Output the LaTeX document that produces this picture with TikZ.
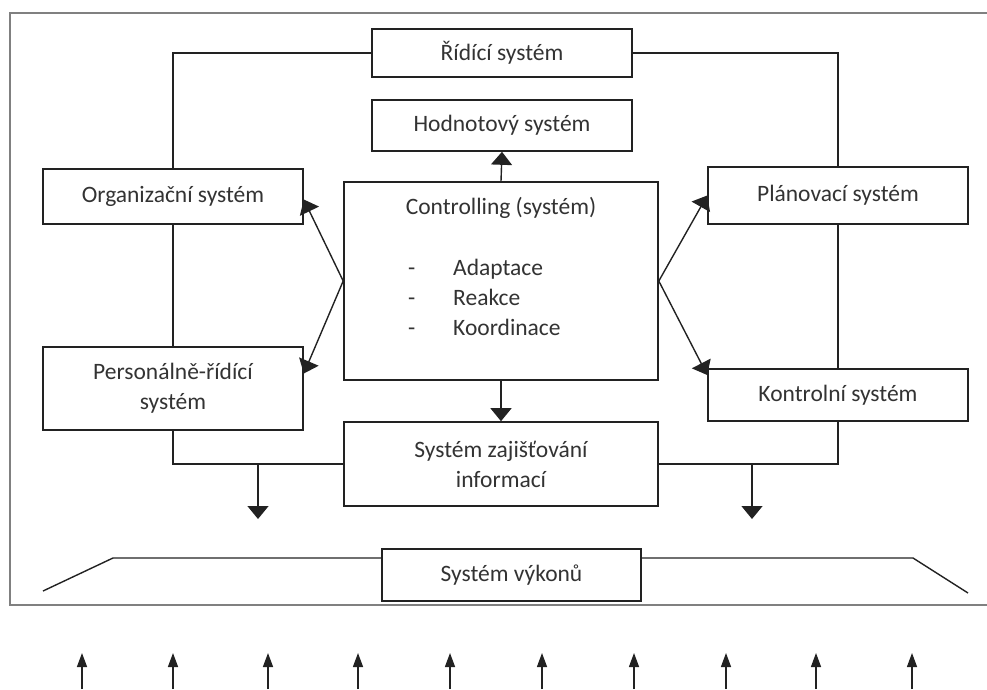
\documentclass[tikz,border=0pt]{standalone}
\usepackage{fontspec}
\setmainfont{Carlito}
\usetikzlibrary{arrows.meta,calc}
\definecolor{txt}{HTML}{333333}
\definecolor{ln}{HTML}{222222}
\definecolor{frm}{HTML}{808080}
\begin{document}
\begin{tikzpicture}[x=1pt,y=-1pt,
  box/.style={draw=ln,line width=1.6pt,fill=white,inner sep=0pt,text=txt,font=\fontsize{23.5}{30}\selectfont,align=center},
  lbl/.style={text=txt,font=\fontsize{23.5}{28}\selectfont,inner sep=0pt},
  conn/.style={draw=ln,line width=1.4pt},
  arr/.style={conn,-{Triangle[width=21pt,length=13pt]}},
  sarr/.style={conn,-{Triangle[width=10pt,length=14pt]}}]
\useasboundingbox (0,0) rectangle (987,689);
% frame
\draw[frm,line width=2pt] (987,13) -- (10,13) -- (10,605) -- (987,605);
% boxes
\node[box,minimum width=260pt,minimum height=48pt] (rid) at (502,53) {Řídící systém};
\node[box,minimum width=260pt,minimum height=51pt] (hod) at (502,125.5) {Hodnotový systém};
\node[box,minimum width=260pt,minimum height=55pt] (org) at (173,196.5) {Organizační systém};
\node[box,minimum width=314pt,minimum height=198pt] (ctl) at (501,281) {};
\node[box,minimum width=260pt,minimum height=57pt] (pla) at (838,195.5) {Plánovací systém};
\node[box,minimum width=260pt,minimum height=52pt] (kon) at (838,395) {Kontrolní systém};
\node[box,minimum width=260pt,minimum height=83pt] (per) at (173,388.5) {Personálně-řídící\\systém};
\node[box,minimum width=314pt,minimum height=84pt] (zaj) at (501,464) {Systém zajišťování\\informací};
% controlling texts
\node[lbl] (ctitle) at (501,208) {Controlling (systém)};
\node[lbl,anchor=base west] (d1) at (408,275) {-};
\node[lbl,anchor=base west] (d2) at (408,305) {-};
\node[lbl,anchor=base west] (d3) at (408,335) {-};
\node[lbl,anchor=base west] (i1) at (453,275) {Adaptace};
\node[lbl,anchor=base west] (i2) at (453,305) {Reakce};
\node[lbl,anchor=base west] (i3) at (453,335) {Koordinace};
% connectors
\draw[conn] (rid.west) -| (org.north);
\draw[conn] (rid.east) -| (pla.north);
\draw[conn] (org.south) -- (per.north);
\draw[conn] (pla.south) -- (kon.north);
\draw[conn] (per.south) |- (zaj.west);
\draw[conn] (kon.south) |- (zaj.east);
\draw[arr] (ctl.north) -- (hod.south);
\draw[arr] (ctl.south) -- (zaj.north);
\draw[arr] (ctl.west) -- ([yshift=-3pt]org.east);
\draw[arr] (ctl.west) -- ([yshift=15pt]per.east);
\draw[arr] (ctl.east) -- (pla.west);
\draw[arr] (ctl.east) -- ([yshift=20pt]kon.west);
\coordinate (jl) at (258,464);
\coordinate (jlend) at (258,519);
\coordinate (jr) at (752,464);
\coordinate (jrend) at (752,519);
\draw[arr] (jl) -- (jlend);
\draw[arr] (jr) -- (jrend);
% performance system
\node[box,minimum width=259pt,minimum height=52pt] (vyk) at (511.5,575) {Systém výkonů};
\coordinate (tl1) at (43,591);
\coordinate (tl2) at (113,558);
\coordinate (tr1) at (913,558);
\coordinate (tr2) at (968,593);
\draw[conn] (tl1) -- (tl2) -- ([yshift=17pt]vyk.west);
\draw[conn] ([yshift=17pt]vyk.east) -- (tr1) -- (tr2);
% bottom arrows
\foreach \x [count=\i] in {82,173,268,358,450,542,634,726,816,912}{
  \coordinate (b\i) at (\x,689);
  \coordinate (t\i) at (\x,653);
  \draw[sarr] (b\i) -- (t\i);
}
\end{tikzpicture}
\end{document}
